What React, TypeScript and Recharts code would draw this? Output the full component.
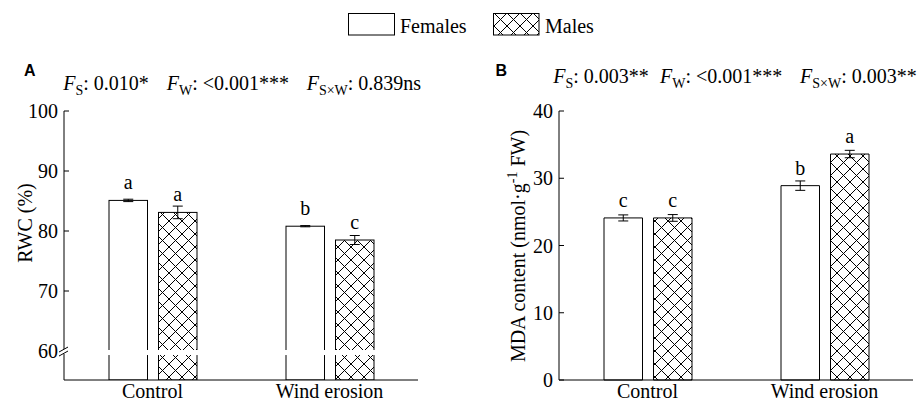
import React from 'react';
import { BarChart, Bar, XAxis, YAxis, ErrorBar, LabelList } from 'recharts';

// values
const treatments = ['Control', 'Wind erosion'];

const rwcFemales = [85.1, 80.8];
const rwcFemalesErr = [0.2, 0.1];
const rwcMales = [83.1, 78.5];
const rwcMalesErr = [1.05, 0.75];
const rwcFemalesLetters = ['a', 'b'];
const rwcMalesLetters = ['a', 'c'];
const rwcTicks = [60, 70, 80, 90, 100];

const mdaFemales = [24.1, 28.9];
const mdaFemalesErr = [0.45, 0.7];
const mdaMales = [24.1, 33.6];
const mdaMalesErr = [0.5, 0.55];
const mdaFemalesLetters = ['c', 'b'];
const mdaMalesLetters = ['c', 'a'];
const mdaTicks = [0, 10, 20, 30, 40];

const rwcMin = 55.17;
const rwcBreak = 60;

const rwcData = treatments.map((name, i) => ({
  name,
  f: rwcFemales[i],
  fErr: rwcFemalesErr[i],
  fLab: rwcFemalesLetters[i],
  m: rwcMales[i],
  mErr: rwcMalesErr[i],
  mLab: rwcMalesLetters[i],
}));

const mdaData = treatments.map((name, i) => ({
  name,
  f: mdaFemales[i],
  fErr: mdaFemalesErr[i],
  fLab: mdaFemalesLetters[i],
  m: mdaMales[i],
  mErr: mdaMalesErr[i],
  mLab: mdaMalesLetters[i],
}));

const SERIF = '"Liberation Serif", "Times New Roman", serif';
const SANS = '"Liberation Sans", Arial, sans-serif';
const FS = 20;

// bar with a white gap at the axis break (panel A)
const brokenBar = (key: string, fill: string) => (props: any) => {
  const { x, y, width, height, payload } = props;
  const v = payload[key];
  const ppu = height / (v - rwcMin);
  const bottom = y + height;
  const gTop = bottom - (rwcBreak + 0.17 - rwcMin) * ppu;
  const gBot = bottom - (rwcBreak - 0.67 - rwcMin) * ppu;
  return (
    <g>
      <rect x={x} y={y} width={width} height={height} fill={fill} stroke="#000" strokeWidth={1} />
      <rect x={x - 1} y={gTop} width={width + 2} height={gBot - gTop} fill="#fff" />
    </g>
  );
};

// y tick: label left of axis, tick mark pointing into the plot
const YTick = (props: any) => {
  const { x, y, payload, brk } = props;
  const ax = x + 6;
  const isBreak = brk !== undefined && payload.value === brk;
  return (
    <g>
      {isBreak ? (
        <g>
          <rect x={ax - 3} y={y - 2} width={6} height={5} fill="#fff" />
          <line x1={ax - 5} y1={y + 1} x2={ax + 4} y2={y - 4} stroke="#000" />
          <line x1={ax - 5} y1={y + 5} x2={ax + 4} y2={y} stroke="#000" />
        </g>
      ) : (
        <line x1={ax} y1={y} x2={ax + 5} y2={y} stroke="#000" />
      )}
      <text x={x} y={y} dy="0.35em" textAnchor="end" fill="#000" fontFamily={SERIF} fontSize={FS}>
        {payload.value}
      </text>
    </g>
  );
};

const XTick = (props: any) => {
  const { x, y, payload } = props;
  return (
    <text x={x} y={y} dy="0.71em" textAnchor="middle" fill="#000" fontFamily={SERIF} fontSize={FS}>
      {payload.value}
    </text>
  );
};

const FStat = ({ x, y, sub, text }: { x: number; y: number; sub: string; text: string }) => (
  <text x={x} y={y} fontFamily={SERIF} fontSize={FS} fill="#000">
    <tspan fontStyle="italic">F</tspan>
    <tspan fontSize={14} dy={5}>{sub}</tspan>
    <tspan dy={-5}>{text}</tspan>
  </text>
);

const BAR_SIZE = 38.5;
const BAR_GAP = 11;

export default function App() {
  return (
    <div
      style={{
        position: 'absolute',
        left: 0,
        top: 0,
        width: 921,
        height: 403,
        background: '#fff',
        fontFamily: SERIF,
      }}
    >
      <svg width={0} height={0} style={{ position: 'absolute' }}>
        <defs>
          <pattern id="crossHatch" patternUnits="userSpaceOnUse" width={13} height={13}>
            <rect width={13} height={13} fill="#fff" />
            <line x1={0} y1={0} x2={13} y2={13} stroke="#000" strokeWidth={1} />
            <line x1={13} y1={0} x2={0} y2={13} stroke="#000" strokeWidth={1} />
          </pattern>
        </defs>
      </svg>

      <div style={{ position: 'absolute', left: 0, top: 0 }}>
        <BarChart
          width={460}
          height={403}
          data={rwcData}
          margin={{ top: 111, right: 42, bottom: 0, left: 0 }}
          barGap={BAR_GAP}
        >
          <XAxis
            dataKey="name"
            height={23}
            tickLine={false}
            tickSize={0}
            tickMargin={4}
            axisLine={{ stroke: '#000' }}
            tick={<XTick />}
            interval={0}
          />
          <YAxis
            width={64}
            domain={[rwcMin, 100]}
            ticks={rwcTicks}
            interval={0}
            allowDataOverflow
            axisLine={{ stroke: '#000' }}
            tickLine={false}
            tickSize={0}
            tickMargin={6}
            tick={<YTick brk={rwcBreak} />}
          />
          <Bar dataKey="f" barSize={BAR_SIZE} shape={brokenBar('f', '#fff')} isAnimationActive={false}>
            <ErrorBar dataKey="fErr" width={5} stroke="#000" strokeWidth={1} direction="y" />
            <LabelList dataKey="fLab" position="top" offset={11} fill="#000" fontFamily={SERIF} fontSize={FS} />
          </Bar>
          <Bar dataKey="m" barSize={BAR_SIZE} shape={brokenBar('m', 'url(#crossHatch)')} isAnimationActive={false}>
            <ErrorBar dataKey="mErr" width={5} stroke="#000" strokeWidth={1} direction="y" />
            <LabelList dataKey="mLab" position="top" offset={11} fill="#000" fontFamily={SERIF} fontSize={FS} />
          </Bar>
        </BarChart>
      </div>

      <div style={{ position: 'absolute', left: 460, top: 0 }}>
        <BarChart
          width={461}
          height={403}
          data={mdaData}
          margin={{ top: 111, right: 8, bottom: 0, left: 0 }}
          barGap={BAR_GAP}
        >
          <XAxis
            dataKey="name"
            height={23}
            tickLine={false}
            tickSize={0}
            tickMargin={4}
            axisLine={{ stroke: '#000' }}
            tick={<XTick />}
            interval={0}
          />
          <YAxis
            width={99}
            domain={[0, 40]}
            ticks={mdaTicks}
            interval={0}
            axisLine={{ stroke: '#000' }}
            tickLine={false}
            tickSize={0}
            tickMargin={6}
            tick={<YTick />}
          />
          <Bar dataKey="f" barSize={BAR_SIZE} fill="#fff" stroke="#000" strokeWidth={1} isAnimationActive={false}>
            <ErrorBar dataKey="fErr" width={5} stroke="#000" strokeWidth={1} direction="y" />
            <LabelList dataKey="fLab" position="top" offset={11} fill="#000" fontFamily={SERIF} fontSize={FS} />
          </Bar>
          <Bar dataKey="m" barSize={BAR_SIZE} fill="url(#crossHatch)" stroke="#000" strokeWidth={1} isAnimationActive={false}>
            <ErrorBar dataKey="mErr" width={5} stroke="#000" strokeWidth={1} direction="y" />
            <LabelList dataKey="mLab" position="top" offset={11} fill="#000" fontFamily={SERIF} fontSize={FS} />
          </Bar>
        </BarChart>
      </div>

      <svg
        width={921}
        height={403}
        style={{ position: 'absolute', left: 0, top: 0, pointerEvents: 'none' }}
      >
        {/* legend */}
        <rect x={348.5} y={13.5} width={46} height={21.5} fill="#fff" stroke="#000" />
        <text x={400} y={32.5} fontFamily={SERIF} fontSize={FS} fill="#000">Females</text>
        <rect x={493.5} y={13.5} width={45.5} height={21.5} fill="url(#crossHatch)" stroke="#000" />
        <text x={545} y={32.5} fontFamily={SERIF} fontSize={FS} fill="#000">Males</text>

        {/* panel letters */}
        <text x={24} y={76} fontFamily={SANS} fontWeight="bold" fontSize={16} fill="#000">A</text>
        <text x={495.5} y={76} fontFamily={SANS} fontWeight="bold" fontSize={16} fill="#000">B</text>

        {/* F statistics */}
        <FStat x={63.3} y={90} sub="S" text=": 0.010*" />
        <FStat x={166.7} y={90} sub="W" text=": <0.001***" />
        <FStat x={306.7} y={90} sub="S×W" text=": 0.839ns" />
        <FStat x={553.3} y={83} sub="S" text=": 0.003**" />
        <FStat x={660} y={83} sub="W" text=": <0.001***" />
        <FStat x={800} y={83} sub="S×W" text=": 0.003**" />

        {/* y axis titles */}
        <text
          x={31.5}
          y={223}
          transform="rotate(-90, 31.5, 223)"
          textAnchor="middle"
          fontFamily={SERIF}
          fontSize={FS}
          fill="#000"
        >
          RWC (%)
        </text>
        <text
          x={525}
          y={246}
          transform="rotate(-90, 525, 246)"
          textAnchor="middle"
          fontFamily={SERIF}
          fontSize={FS}
          fill="#000"
        >
          MDA content (nmol·g
          <tspan fontSize={14} dy={-8}>-1</tspan>
          <tspan dy={8}> FW)</tspan>
        </text>
      </svg>
    </div>
  );
}
